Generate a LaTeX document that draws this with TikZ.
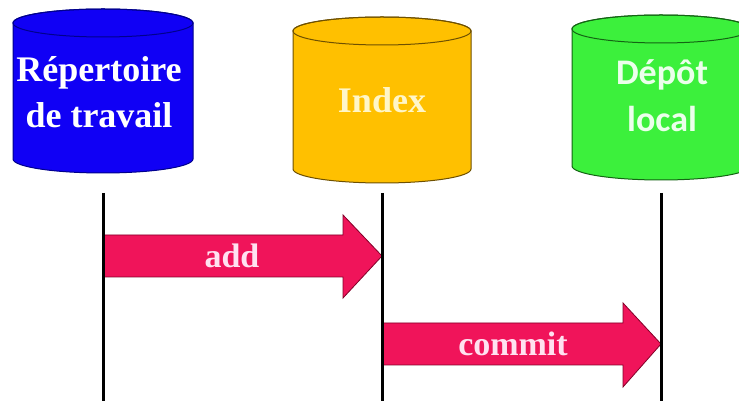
\documentclass[tikz,border=0pt]{standalone}
\usepackage{fontspec}
\setmainfont{Liberation Serif}
\newfontfamily\sansf{Carlito}
\usetikzlibrary{calc}
\definecolor{cblue}{RGB}{16,0,245}
\definecolor{cblueline}{RGB}{0,0,140}
\definecolor{cyellow}{RGB}{255,192,0}
\definecolor{cyellowline}{RGB}{110,80,0}
\definecolor{cgreen}{RGB}{60,240,60}
\definecolor{cgreenline}{RGB}{20,100,20}
\definecolor{carrow}{RGB}{240,20,90}
\definecolor{carrowline}{RGB}{130,0,40}
\definecolor{ctxtyellow}{RGB}{255,246,200}
\definecolor{ctxtgreen}{RGB}{235,255,235}
\definecolor{ctxtpink}{RGB}{255,225,240}
\begin{document}
\begin{tikzpicture}[x=1pt,y=1pt,
  lifeline/.style={line width=3pt,black},
  cyl/.style={line width=1pt},
  blockarrow/.style={fill=carrow,draw=carrowline,line width=0.8pt,line join=miter},
  lbl/.style={font=\bfseries\fontsize{36}{46}\selectfont,inner sep=0pt,align=center},
  arrlbl/.style={font=\bfseries\fontsize{34}{40}\selectfont,inner sep=0pt,text=ctxtpink}
]
\useasboundingbox (0,0) rectangle (739,401);
\clip (0,0) rectangle (739,401);
% cylinders: cx, rx, top centre Y, bottom centre Y, ry
\newcommand\mycyl[7]{%
  \path[cyl,fill=#6,draw=#7] (#1-#2,#3) -- (#1-#2,#4)
    arc[start angle=180,end angle=360,x radius=#2,y radius=#5]
    -- (#1+#2,#3)
    arc[start angle=0,end angle=180,x radius=#2,y radius=#5] -- cycle;
  \draw[cyl,draw=#7] (#1,#3) ellipse[x radius=#2,y radius=#5];
}
\mycyl{103}{90}{378}{242}{14}{cblue}{cblueline}
\mycyl{382}{89}{370}{232}{14}{cyellow}{cyellowline}
\mycyl{661}{89}{372}{235}{14}{cgreen}{cgreenline}
% labels
\node[lbl,text=white,anchor=base] (rep) at (99,273) {Répertoire\\de travail};
\node[lbl,text=ctxtyellow,anchor=base] (idx) at (382,288) {Index};
\node[lbl,font=\sansf\bfseries\fontsize{36}{47}\selectfont,text=ctxtgreen,anchor=base] (dep) at (662,269) {Dépôt\\local};
% lifelines
\coordinate (a1) at (103,208); \coordinate (a0) at (103,0);
\coordinate (b1) at (382,208); \coordinate (b0) at (382,0);
\coordinate (c1) at (661,208); \coordinate (c0) at (661,0);
% add arrow
\coordinate (addS) at (103,145);
\coordinate (addT) at (382,145);
\path[blockarrow] ($(addS)+(0,21)$) -- (343,166) -- (343,186) -- (addT) -- (343,103) -- (343,124) -- ($(addS)+(0,-21)$) -- cycle;
\node[arrlbl,anchor=base] (add) at (232,133) {add};
% commit arrow
\coordinate (comS) at (382,57);
\coordinate (comT) at (661,57);
\path[blockarrow] ($(comS)+(0,21)$) -- (623,78) -- (623,98) -- (comT) -- (623,14) -- (623,36) -- ($(comS)+(0,-21)$) -- cycle;
\node[arrlbl,anchor=base] (commit) at (513,45) {commit};
\draw[lifeline] (a1) -- (a0);
\draw[lifeline] (b1) -- (b0);
\draw[lifeline] (c1) -- (c0);
\end{tikzpicture}
\end{document}
